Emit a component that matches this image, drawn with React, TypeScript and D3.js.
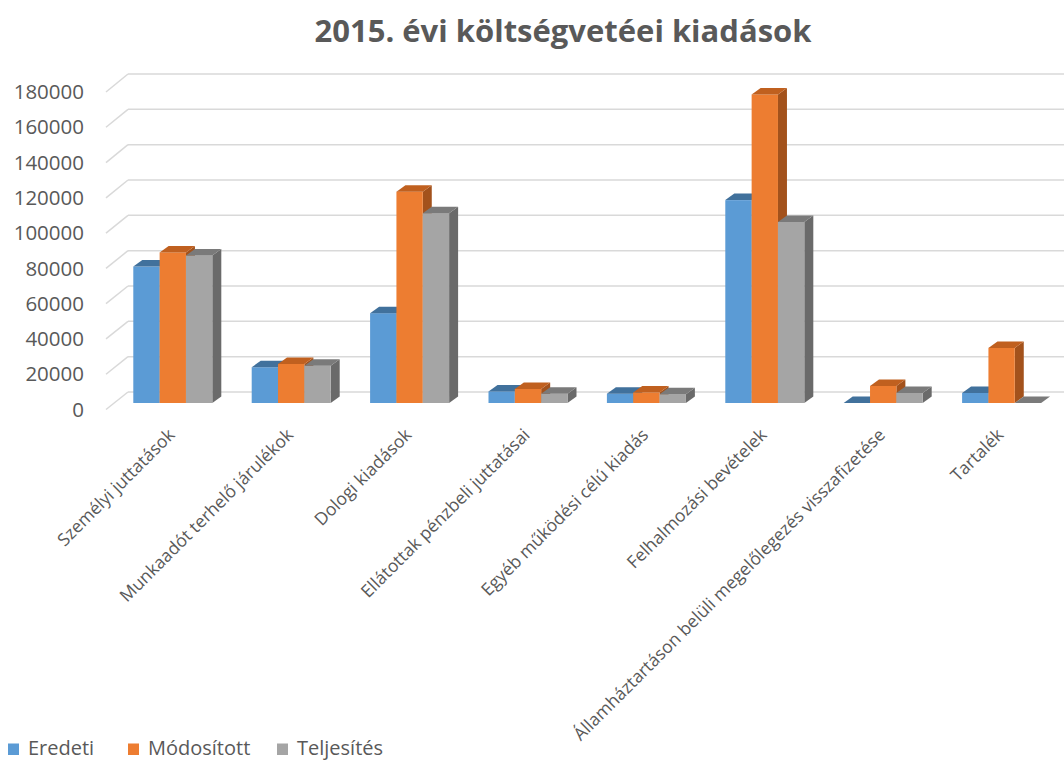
import React from "react";
import * as d3 from "d3";

const categories = [
  "Személyi juttatások",
  "Munkaadót terhelő járulékok",
  "Dologi kiadások",
  "Ellátottak pénzbeli juttatásai",
  "Egyéb működési célú kiadás",
  "Felhalmozási bevételek",
  "Államháztartáson belüli megelőlegezés visszafizetése",
  "Tartalék",
];
const seriesNames = ["Eredeti", "Módosított", "Teljesítés"];
const eredeti = [77500, 20300, 51000, 6600, 5300, 115200, 0, 5700];
const modositott = [85500, 22200, 120000, 8000, 6000, 175200, 9700, 31300];
const teljesites = [83800, 21200, 107800, 5300, 5000, 102800, 5700, 0];
const yTicks = [0, 20000, 40000, 60000, 80000, 100000, 120000, 140000, 160000, 180000];
const title = "2015. évi költségvetéei kiadások";

const seriesValues = [eredeti, modositott, teljesites];
const faceColors = ["#5B9BD5", "#ED7D31", "#A5A5A5"];
const topColors = ["#41719C", "#C0601F", "#7A7A7A"];
const sideColors = ["#3E6E9A", "#A3521C", "#6A6A6A"];

const W = 1064;
const H = 761;
const FONT = "'Open Sans', 'Segoe UI', sans-serif";
const TEXT = "#595959";

export default function App() {
  const yBar = d3.scaleLinear().domain([0, 180000]).range([403, 86]);
  const yBack = d3.scaleLinear().domain([0, 180000]).range([392, 74]);
  const yFront = d3.scaleLinear().domain([0, 180000]).range([409.5, 92]);
  const xGroup = d3.scaleBand<string>().domain(categories).range([113.6, 113.6 + 8 * 118.4]).padding(0);
  const groupW = 79;
  const xSeries = d3.scaleBand<string>().domain(seriesNames).range([0, groupW]).padding(0);
  const dx = 9;
  const dy = 6.5;
  const frontX = 106;
  const backX = 128;

  const bars: React.ReactNode[] = [];
  categories.forEach((c, i) => {
    const g0 = (xGroup(c) as number) + (xGroup.bandwidth() - groupW) / 2;
    seriesNames.forEach((s, j) => {
      const v = seriesValues[j][i];
      const x = g0 + (xSeries(s) as number);
      const w = xSeries.bandwidth();
      const yt = yBar(v);
      const yb = yBar(0);
      const top = `M${x},${yt} L${x + dx},${yt - dy} L${x + w + dx},${yt - dy} L${x + w},${yt} Z`;
      const side = `M${x + w},${yt} L${x + w + dx},${yt - dy} L${x + w + dx},${yb - dy} L${x + w},${yb} Z`;
      bars.push(
        <g key={`${i}-${j}`}>
          <path d={side} fill={sideColors[j]} />
          {v > 0 && <rect x={x} y={yt} width={w} height={yb - yt} fill={faceColors[j]} />}
          <path d={top} fill={topColors[j]} />
        </g>
      );
    });
  });

  return (
    <svg width={W} height={H} style={{ position: "absolute", left: 0, top: 0, background: "#fff" }}>
      <rect x={0} y={0} width={W} height={H} fill="#fff" />
      <text x={563} y={42} textAnchor="middle" fontFamily={FONT} fontWeight={700} fontSize={31} fill={TEXT}>
        {title}
      </text>
      {yTicks.map((t) => (
        <g key={t}>
          <line x1={backX} x2={W} y1={yBack(t)} y2={yBack(t)} stroke="#D9D9D9" strokeWidth={1.5} />
          <line x1={frontX} x2={backX} y1={yFront(t)} y2={yBack(t)} stroke="#D9D9D9" strokeWidth={1.5} />
          <text x={84} y={yFront(t)} dy="0.35em" textAnchor="end" fontFamily={FONT} fontSize={20.5} fill={TEXT}>
            {t}
          </text>
        </g>
      ))}
      {bars}
      {categories.map((c) => {
        const cx = (xGroup(c) as number) + xGroup.bandwidth() / 2;
        return (
          <text
            key={c}
            transform={`translate(${cx + 3},${436}) rotate(-45)`}
            textAnchor="end"
            fontFamily={FONT}
            fontSize={17.5}
            fill={TEXT}
          >
            {c}
          </text>
        );
      })}
      {seriesNames.map((s, j) => {
        const lx = [8, 128, 277][j];
        return (
          <g key={s}>
            <rect x={lx} y={743.5} width={11} height={11.5} fill={faceColors[j]} />
            <text x={lx + 20} y={755} fontFamily={FONT} fontSize={20} fill={TEXT}>
              {s}
            </text>
          </g>
        );
      })}
    </svg>
  );
}
